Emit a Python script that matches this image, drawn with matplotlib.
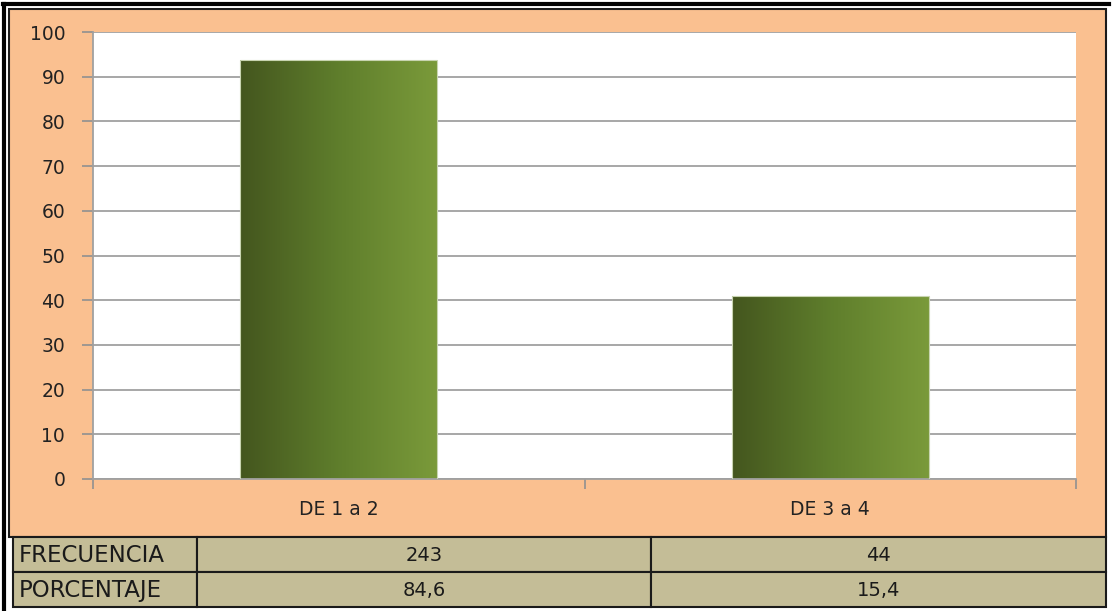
import matplotlib
matplotlib.use("Agg")
import matplotlib.pyplot as plt
import numpy as np
from matplotlib.patches import Rectangle
from matplotlib.lines import Line2D
from matplotlib.colors import LinearSegmentedColormap

categories = ["DE 1 a 2", "DE 3 a 4"]
values = [93.7, 41.0]
row_labels = ["FRECUENCIA", "PORCENTAJE"]
frecuencia = ["243", "44"]
porcentaje = ["84,6", "15,4"]
yticks = [0, 10, 20, 30, 40, 50, 60, 70, 80, 90, 100]

W, H = 1114, 611
fig = plt.figure(figsize=(W / 100, H / 100), dpi=100)
fig.patch.set_facecolor("white")

def fx(px):
    return px / W

def fy(py):
    return 1 - py / H

# outer black frame (left and top)
fig.lines.append(Line2D([fx(4), fx(4)], [fy(609), fy(4)], transform=fig.transFigure,
                        color="black", lw=3, zorder=-2))
fig.lines.append(Line2D([fx(3), fx(1109)], [fy(4), fy(4)], transform=fig.transFigure,
                        color="black", lw=3, zorder=-2))
# orange chart area
fig.patches.append(Rectangle((fx(9), fy(537)), fx(1106) - fx(9), fy(9) - fy(537),
                             transform=fig.transFigure, facecolor="#FAC090",
                             edgecolor="#1a1a1a", lw=1.5, zorder=-1))

ax = fig.add_axes([fx(93), fy(479), fx(1076) - fx(93), fy(32) - fy(479)])
ax.set_zorder(5)
ax.set_facecolor("white")
x = np.arange(len(categories))
bars = ax.bar(x, values, width=0.4, color="none", edgecolor="#C8D4B0", lw=0.8, zorder=3)
cmap = LinearSegmentedColormap.from_list("g", ["#44561E", "#5F7E2C", "#7A9A3A"])
grad = np.linspace(0, 1, 256).reshape(1, -1)
for b in bars:
    x0, w, h = b.get_x(), b.get_width(), b.get_height()
    im = ax.imshow(grad, cmap=cmap, extent=(x0, x0 + w, 0, h), aspect="auto",
                   zorder=2, interpolation="bilinear")
    im.set_clip_path(b)

ax.set_xlim(-0.5, 1.5)
ax.set_ylim(0, 100)
ax.set_yticks(yticks)
ax.set_yticklabels([str(t) for t in yticks])
ax.set_xticks(x)
ax.set_xticklabels(categories)
ax.set_xticks([-0.5, 0.5, 1.5], minor=True)
ax.tick_params(axis="x", which="major", length=0, pad=15, labelsize=13.5, labelcolor="#222222")
ax.tick_params(axis="x", which="minor", length=7, width=1.2, color="#909090", direction="out")
ax.tick_params(axis="y", length=8, width=1.2, color="#909090", pad=12, labelsize=13.5,
               labelcolor="#222222")
ax.yaxis.grid(True, color="#A0A0A0", lw=1.3, zorder=1)
ax.set_axisbelow(True)
for s in ["top", "right"]:
    ax.spines[s].set_visible(False)
for s in ["left", "bottom"]:
    ax.spines[s].set_color("#A0A0A0")
    ax.spines[s].set_linewidth(1.3)

# data table
cols = [13, 197, 651, 1106]
rows = [537, 572, 607]
cells = [[row_labels[0]] + frecuencia, [row_labels[1]] + porcentaje]
for r in range(2):
    for c in range(3):
        x0, x1 = cols[c], cols[c + 1]
        y0, y1 = rows[r], rows[r + 1]
        fig.patches.append(Rectangle((fx(x0), fy(y1)), fx(x1) - fx(x0), fy(y0) - fy(y1),
                                     transform=fig.transFigure, facecolor="#C4BD97",
                                     edgecolor="#1a1a1a", lw=1.5, zorder=1))
        if c == 0:
            fig.text(fx(x0 + 6), fy((y0 + y1) / 2 + 1), cells[r][c], ha="left", va="center",
                     fontsize=16.5, color="#1a1a1a", family="DejaVu Sans")
        else:
            fig.text(fx((x0 + x1) / 2), fy((y0 + y1) / 2 + 1), cells[r][c], ha="center",
                     va="center", fontsize=14, color="#1a1a1a", family="DejaVu Sans")

fig.savefig("out.png", dpi=100)
